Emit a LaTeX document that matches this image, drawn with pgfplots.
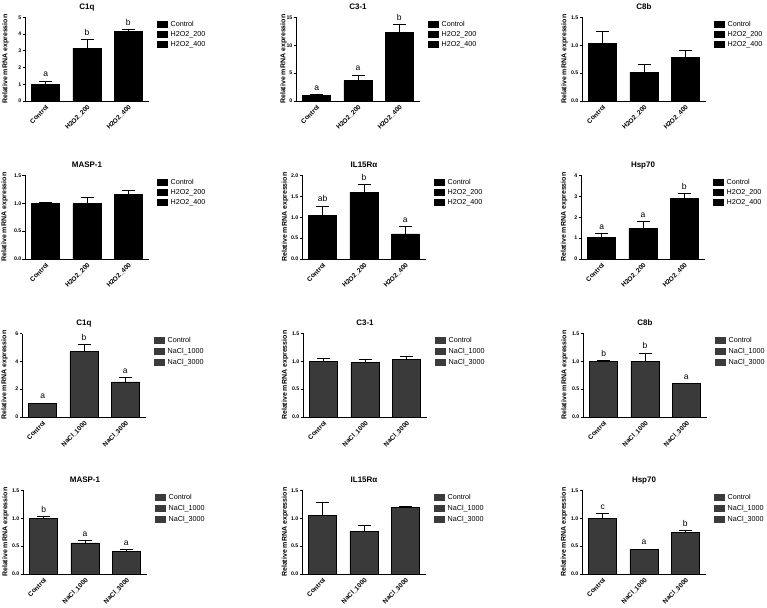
\documentclass[border=0pt]{standalone}
\usepackage{fontspec}
\setmainfont{Liberation Sans}
\usepackage{pgfplots}
\pgfplotsset{compat=1.18}
\definecolor{naclgray}{HTML}{3A3A3A}

\newcommand\titlefont{\fontsize{8}{9}\selectfont\bfseries}
\newcommand\labfont{\fontsize{7}{8}\selectfont\bfseries}
\newcommand\ytfont{\fontsize{5.2}{6}\selectfont\bfseries}
\newcommand\xtfont{\fontsize{6.5}{7}\selectfont\bfseries}
\newcommand\legfont{\fontsize{7.2}{8}\selectfont}
\newcommand\letfont{\fontsize{8.5}{9}\selectfont}

\pgfplotsset{
  panel/.style={
    scale only axis, width=124pt, height=83.5pt, anchor=south west,
    xmin=-0.5, xmax=2.5, ymin=0, clip=false,
    axis lines*=left, axis line style={line width=0.9pt},
    tick align=outside, major tick length=2.5pt,
    xtick={0,1,2}, x tick style={draw=none},
    y tick style={line width=0.8pt, black},
    /pgf/number format/assume math mode=true,
    yticklabel style={font=\ytfont, inner sep=1pt},
    xticklabel style={font=\xtfont, rotate=45, anchor=north east, inner sep=0.5pt},
    title style={font=\titlefont, at={(axis description cs:0.5,1)}, anchor=base, yshift=2pt},
    ylabel={Relative mRNA expression},
    ylabel style={font=\labfont, anchor=center},
    legend style={at={(1,1)}, anchor=north west, xshift=8pt, yshift=-2.5pt,
      draw=none, fill=none, font=\legfont, inner sep=0pt,
      nodes={inner sep=1pt, text height=5pt, text depth=1.5pt},
      /tikz/every odd column/.append style={column sep=2pt},
      cells={anchor=west}},
  },
  ylab/.style={ylabel style={at={(axis description cs:-#1,0.5)}}},
  dec/.style={yticklabel style={/pgf/number format/.cd, fixed, fixed zerofill, precision=1}},
  h2o2/.style={xticklabels={Control,H2O2\_200,H2O2\_400}, legend style={row sep=1.5pt}},
  nacl/.style={xticklabels={Control,NaCl\_1000,NaCl\_3000}, legend style={row sep=2.5pt}},
  errs/.style={
    /pgfplots/error bars/y dir=plus, /pgfplots/error bars/y explicit,
    /pgfplots/error bars/error bar style={line width=0.8pt, black},
    /pgfplots/error bars/error mark options={rotate=90, mark size=6.5pt, line width=0.8pt, black}},
  barh/.style={ybar, forget plot, bar width=0.68, fill=black, draw=black, line width=0.5pt, errs},
  barn/.style={ybar, forget plot, bar width=0.68, fill=naclgray, draw=black, line width=0.5pt, errs},
  legh/.style={legend image code/.code={\fill[black] (0pt,-3pt) rectangle (10pt,3pt);}},
  legn/.style={legend image code/.code={\fill[naclgray] (0pt,-3pt) rectangle (10pt,3pt);}},
}

\newcommand\legH{\addlegendimage{legh}\addlegendentry{Control}%
  \addlegendimage{legh}\addlegendentry{H2O2\_200}%
  \addlegendimage{legh}\addlegendentry{H2O2\_400}}
\newcommand\legN{\addlegendimage{legn}\addlegendentry{Control}%
  \addlegendimage{legn}\addlegendentry{NaCl\_1000}%
  \addlegendimage{legn}\addlegendentry{NaCl\_3000}}
\newcommand\lett[3]{\node[font=\letfont, anchor=base, yshift=4pt, inner sep=0pt] at (axis cs:#1,#2) {#3};}

\begin{document}
\begin{tikzpicture}
\useasboundingbox (0,0) rectangle (767pt,607pt);

% ---------- H2O2 row 1 ----------
\begin{axis}[panel, h2o2, at={(25pt,506pt)}, ylab=0.157, title={C1q}, ymax=5, ytick={0,1,2,3,4,5}]
\addplot[barh] coordinates {(0,1.0) +- (0,0.2) (1,3.16) +- (0,0.5) (2,4.16) +- (0,0.14)};
\legH
\lett{0}{1.2}{a}\lett{1}{3.66}{b}\lett{2}{4.3}{b}
\end{axis}

\begin{axis}[panel, h2o2, at={(296pt,506pt)}, ylab=0.1, title={C3-1}, ymax=15, ytick={0,5,10,15}]
\addplot[barh] coordinates {(0,1.0) +- (0,0.2) (1,3.66) +- (0,1.02) (2,12.36) +- (0,1.44)};
\legH
\lett{0}{1.2}{a}\lett{1}{4.68}{a}\lett{2}{13.8}{b}
\end{axis}

\begin{axis}[panel, h2o2, dec, at={(582pt,506pt)}, ylab=0.141, title={C8b}, ymax=1.5, ytick={0,0.5,1,1.5}]
\addplot[barh] coordinates {(0,1.04) +- (0,0.21) (1,0.52) +- (0,0.14) (2,0.79) +- (0,0.11)};
\legH
\end{axis}

% ---------- H2O2 row 2 ----------
\begin{axis}[panel, h2o2, dec, at={(25pt,348pt)}, ylab=0.165, title={MASP-1}, ymax=1.5, ytick={0,0.5,1,1.5}]
\addplot[barh] coordinates {(0,1.0) +- (0,0.02) (1,1.0) +- (0,0.1) (2,1.16) +- (0,0.08)};
\legH
\end{axis}

\begin{axis}[panel, h2o2, dec, at={(302pt,348pt)}, ylab=0.137, title={IL15Rα}, ymax=2, ytick={0,0.5,1,1.5,2}]
\addplot[barh] coordinates {(0,1.05) +- (0,0.22) (1,1.6) +- (0,0.18) (2,0.6) +- (0,0.19)};
\legH
\lett{0}{1.27}{ab}\lett{1}{1.78}{b}\lett{2}{0.79}{a}
\end{axis}

\begin{axis}[panel, h2o2, at={(581pt,348pt)}, ylab=0.137, title={Hsp70}, ymax=4, ytick={0,1,2,3,4}]
\addplot[barh] coordinates {(0,1.04) +- (0,0.18) (1,1.46) +- (0,0.32) (2,2.9) +- (0,0.22)};
\legH
\lett{0}{1.22}{a}\lett{1}{1.78}{a}\lett{2}{3.12}{b}
\end{axis}

% ---------- NaCl row 3 ----------
\begin{axis}[panel, nacl, at={(22pt,190pt)}, ylab=0.141, title={C1q}, ymax=6, ytick={0,2,4,6}]
\addplot[barn] coordinates {(0,1.0) +- (0,0.01) (1,4.71) +- (0,0.53) (2,2.52) +- (0,0.29)};
\legN
\lett{0}{1.01}{a}\lett{1}{5.24}{b}\lett{2}{2.81}{a}
\end{axis}

\begin{axis}[panel, nacl, dec, at={(303pt,190pt)}, ylab=0.145, title={C3-1}, ymax=1.5, ytick={0,0.5,1,1.5}]
\addplot[barn] coordinates {(0,1.0) +- (0,0.06) (1,0.98) +- (0,0.05) (2,1.03) +- (0,0.05)};
\legN
\end{axis}

\begin{axis}[panel, nacl, dec, at={(583pt,190pt)}, ylab=0.149, title={C8b}, ymax=1.5, ytick={0,0.5,1,1.5}]
\addplot[barn] coordinates {(0,1.0) +- (0,0.01) (1,1.0) +- (0,0.15) (2,0.6) +- (0,0.01)};
\legN
\lett{0}{1.01}{b}\lett{1}{1.15}{b}\lett{2}{0.61}{a}
\end{axis}

% ---------- NaCl row 4 ----------
\begin{axis}[panel, nacl, dec, at={(23pt,33pt)}, ylab=0.141, title={MASP-1}, ymax=1.5, ytick={0,0.5,1,1.5}]
\addplot[barn] coordinates {(0,1.0) +- (0,0.03) (1,0.56) +- (0,0.05) (2,0.4) +- (0,0.04)};
\legN
\lett{0}{1.03}{b}\lett{1}{0.61}{a}\lett{2}{0.44}{a}
\end{axis}

\begin{axis}[panel, nacl, dec, at={(302pt,33pt)}, ylab=0.137, title={IL15Rα}, ymax=1.5, ytick={0,0.5,1,1.5}]
\addplot[barn] coordinates {(0,1.05) +- (0,0.23) (1,0.77) +- (0,0.11) (2,1.2) +- (0,0.02)};
\legN
\end{axis}

\begin{axis}[panel, nacl, dec, at={(582pt,33pt)}, ylab=0.145, title={Hsp70}, ymax=1.5, ytick={0,0.5,1,1.5}]
\addplot[barn] coordinates {(0,1.0) +- (0,0.08) (1,0.44) +- (0,0.01) (2,0.75) +- (0,0.03)};
\legN
\lett{0}{1.08}{c}\lett{1}{0.45}{a}\lett{2}{0.78}{b}
\end{axis}
\end{tikzpicture}
\end{document}
